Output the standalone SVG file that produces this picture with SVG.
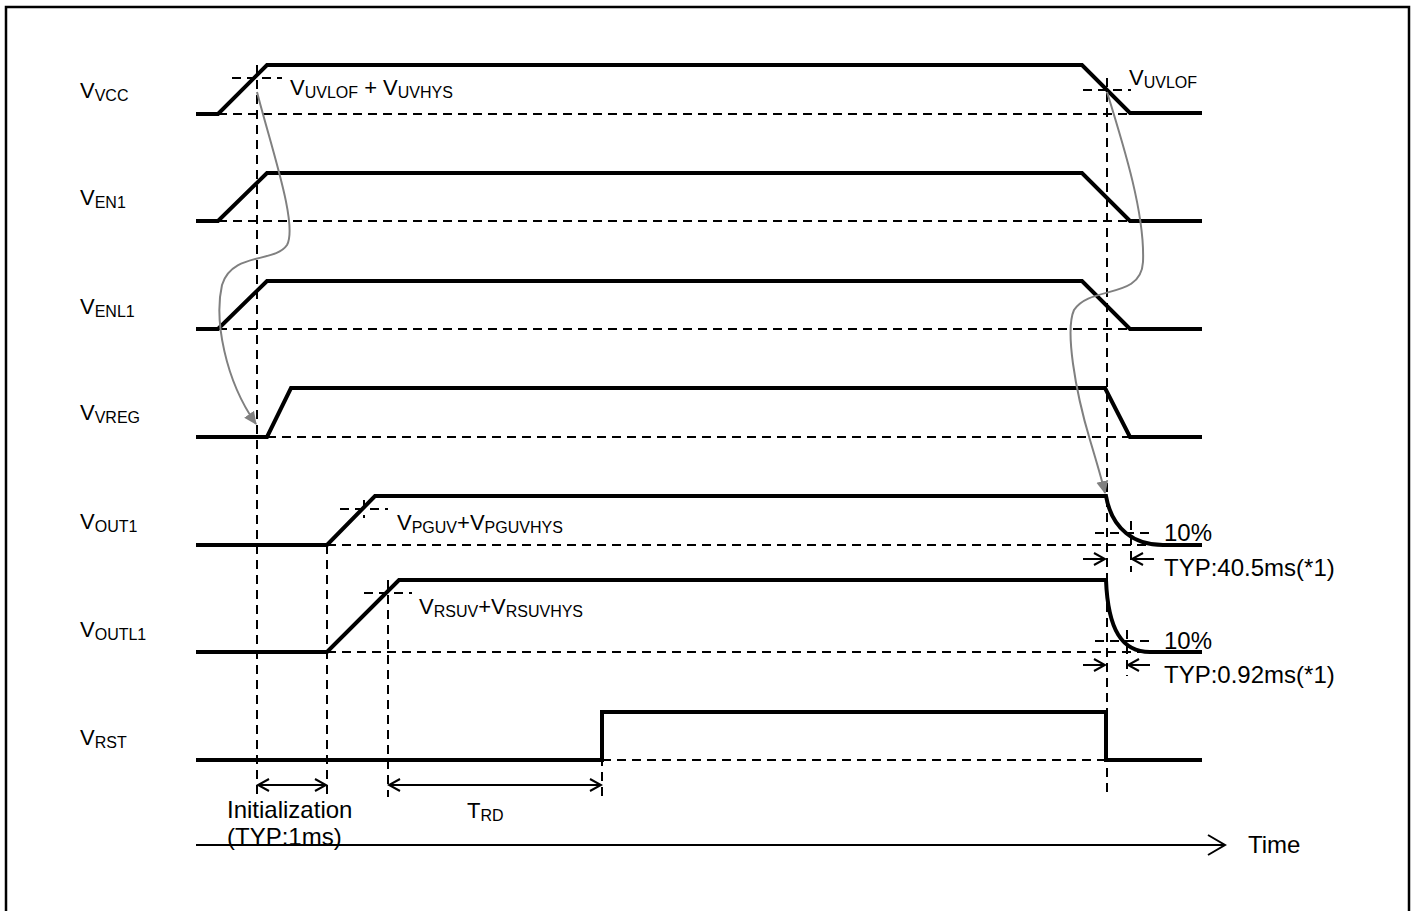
<svg xmlns="http://www.w3.org/2000/svg" width="1415" height="911" viewBox="0 0 1415 911">
<style>
.sig{fill:none;stroke:#000;stroke-width:4;stroke-linejoin:miter}
.dash{fill:none;stroke:#000;stroke-width:2;stroke-dasharray:9,6}
.thin{fill:none;stroke:#000;stroke-width:2}
.gray{fill:none;stroke:#808080;stroke-width:2}
text{font-family:"Liberation Sans",Arial,sans-serif;fill:#000}
.lbl{font-size:22px}
.sub{font-size:16px}
.note{font-size:24px}
</style>
<defs>
<marker id="open" markerWidth="14" markerHeight="14" refX="12" refY="7" orient="auto" markerUnits="userSpaceOnUse">
<path d="M1,1 L12,7 L1,13" fill="none" stroke="#000" stroke-width="2"/>
</marker>
<marker id="openBig" markerWidth="20" markerHeight="22" refX="18" refY="11" orient="auto" markerUnits="userSpaceOnUse">
<path d="M1,1 L18,11 L1,21" fill="none" stroke="#000" stroke-width="2"/>
</marker>
<marker id="grayTip" markerWidth="14" markerHeight="14" refX="12" refY="7" orient="auto" markerUnits="userSpaceOnUse">
<path d="M0,1 L13,7 L0,13 Z" fill="#808080"/>
</marker>
</defs>

<rect x="6" y="7" width="1403" height="930" fill="none" stroke="#000" stroke-width="2.5"/>

<g id="labels">
<text class="lbl" x="80" y="98">V<tspan class="sub" dy="3">VCC</tspan></text>
<text class="lbl" x="80" y="205">V<tspan class="sub" dy="3">EN1</tspan></text>
<text class="lbl" x="80" y="314">V<tspan class="sub" dy="3">ENL1</tspan></text>
<text class="lbl" x="80" y="420">V<tspan class="sub" dy="3">VREG</tspan></text>
<text class="lbl" x="80" y="529">V<tspan class="sub" dy="3">OUT1</tspan></text>
<text class="lbl" x="80" y="637">V<tspan class="sub" dy="3">OUTL1</tspan></text>
<text class="lbl" x="80" y="745">V<tspan class="sub" dy="3">RST</tspan></text>
</g>

<g id="grid">
<path class="dash" d="M218,114 H1130 M218,221 H1130 M218,329 H1130 M267,437 H1130 M327,545 H1163 M327,652 H1150 M602,760 H1106"/>
<path class="dash" d="M257,65 V797 M1107,78 V797 M327,545 V797 M388,580 V797 M602,712 V797 M364,500 V518 M1131,521 V572 M1127,630 V676"/>
<path class="dash" d="M232,78 H282 M1083,90 H1131 M340,509 H388 M364,593 H412 M1095,533 H1155 M1095,641 H1155"/>
</g>

<g id="VCC"><path class="sig" d="M196,114 H218 L267,65 H1082 L1130,113 H1202"/></g>
<g id="VEN1"><path class="sig" d="M196,221 H218 L267,173 H1082 L1130,221 H1202"/></g>
<g id="VENL1"><path class="sig" d="M196,329 H218 L267,281 H1082 L1130,329 H1202"/></g>
<g id="VVREG"><path class="sig" d="M196,437 H267 L291,388 H1105 L1130,437 H1202"/></g>
<g id="VOUT1"><path class="sig" d="M196,545 H327 L375,496 H1106 C1112,530 1135,545 1163,545 H1202"/></g>
<g id="VOUTL1"><path class="sig" d="M196,652 H327 L399,580 H1106 C1108,630 1122,652 1150,652 H1202"/></g>
<g id="VRST"><path class="sig" d="M196,760 H602 V712 H1106 V760 H1202"/></g>

<g id="connectors">
<path class="gray" d="M257,92 C272,150 298,225 287,245 C275,263 232,252 222,285 C214,320 225,380 256,424" marker-end="url(#grayTip)"/>
<path class="gray" d="M1107,92 C1125,150 1145,215 1143,262 C1141,300 1090,285 1074,310 C1065,330 1075,390 1090,440 C1096,460 1102,480 1105,493" marker-end="url(#grayTip)"/>
<path class="thin" d="M1083,559 H1105" marker-end="url(#open)"/>
<path class="thin" d="M1154,559 H1132" marker-end="url(#open)"/>
<path class="thin" d="M1083,665 H1105" marker-end="url(#open)"/>
<path class="thin" d="M1150,665 H1128" marker-end="url(#open)"/>
<path class="thin" d="M290,785 H258" marker-end="url(#open)"/>
<path class="thin" d="M290,785 H326" marker-end="url(#open)"/>
<path class="thin" d="M495,785 H389" marker-end="url(#open)"/>
<path class="thin" d="M495,785 H601" marker-end="url(#open)"/>
<path class="thin" d="M196,845 H1225" marker-end="url(#openBig)"/>
</g>

<g id="annotations">
<text class="lbl" x="290" y="95">V<tspan class="sub" dy="3">UVLOF</tspan><tspan dy="-3"> + V</tspan><tspan class="sub" dy="3">UVHYS</tspan></text>
<text class="lbl" x="1129" y="85">V<tspan class="sub" dy="3">UVLOF</tspan></text>
<text class="lbl" x="397" y="530">V<tspan class="sub" dy="3">PGUV</tspan><tspan dy="-3">+V</tspan><tspan class="sub" dy="3">PGUVHYS</tspan></text>
<text class="lbl" x="419" y="614">V<tspan class="sub" dy="3">RSUV</tspan><tspan dy="-3">+V</tspan><tspan class="sub" dy="3">RSUVHYS</tspan></text>
<text class="note" x="1164" y="541">10%</text>
<text class="note" x="1164" y="576">TYP:40.5ms(*1)</text>
<text class="note" x="1164" y="649">10%</text>
<text class="note" x="1164" y="683">TYP:0.92ms(*1)</text>
<text class="note" x="227" y="818">Initialization</text>
<text class="note" x="227" y="845">(TYP:1ms)</text>
<text class="lbl" x="467" y="818">T<tspan class="sub" dy="3">RD</tspan></text>
<text class="note" x="1248" y="853">Time</text>
</g>
</svg>
